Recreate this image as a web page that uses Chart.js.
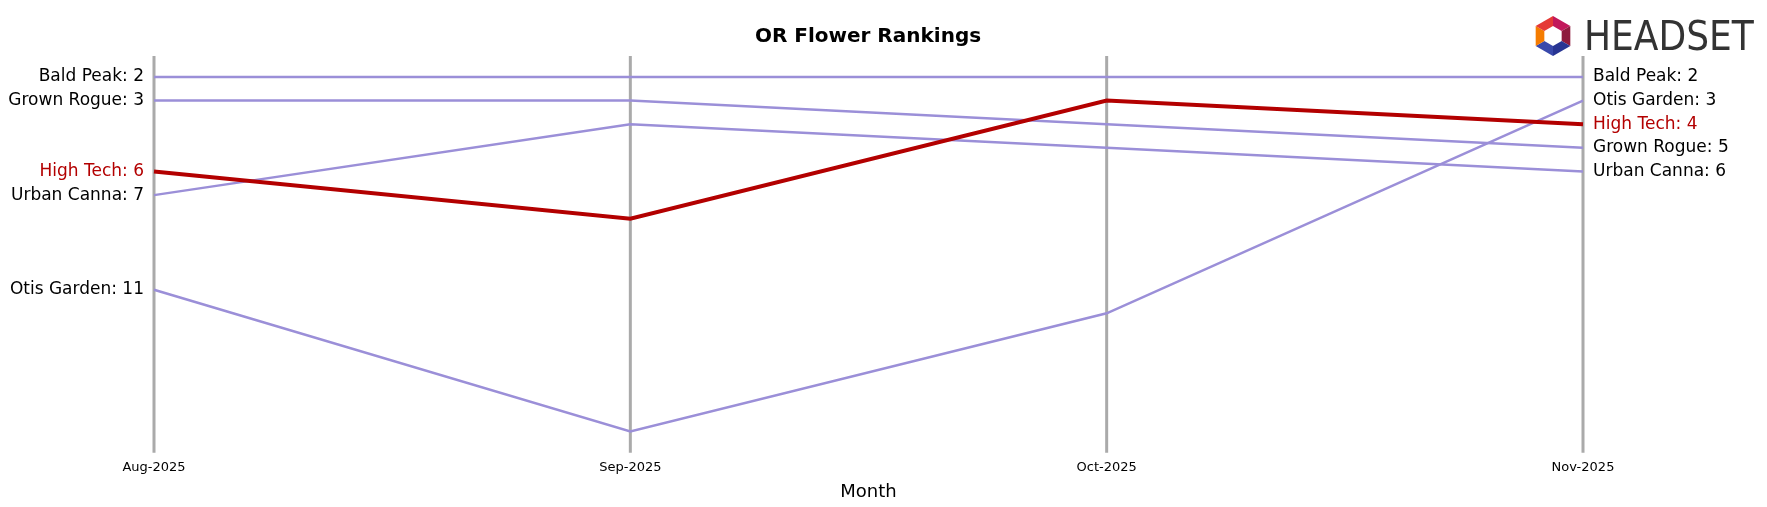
<!DOCTYPE html>
<html>
<head>
<meta charset="utf-8">
<script src="https://cdn.jsdelivr.net/npm/chart.js@4/dist/chart.umd.min.js"></script>
<style>
  html, body { margin: 0; padding: 0; background: #fff; }
  #wrap { width: 1767px; height: 507px; }
</style>
</head>
<body>
<div id="wrap"><canvas id="c"></canvas></div>
<script>
// Data
var months = ['Aug-2025', 'Sep-2025', 'Oct-2025', 'Nov-2025'];
var brands = ['Bald Peak', 'Grown Rogue', 'Urban Canna', 'Otis Garden', 'High Tech'];
var baldPeak = [2, 2, 2, 2];
var grownRogue = [3, 3, 4, 5];
var urbanCanna = [7, 4, 5, 6];
var otisGarden = [11, 17, 12, 3];
var highTech = [6, 8, 3, 4];
var highlight = 'High Tech';

var series = [baldPeak, grownRogue, urbanCanna, otisGarden, highTech];
var LAV = '#9b8fd8', RED = '#b30000';
var FONT = 'DejaVu Sans';

var datasets = brands.map(function (name, i) {
    var hi = name === highlight;
    return {
        label: name,
        data: series[i],
        borderColor: hi ? RED : LAV,
        borderWidth: hi ? 4 : 2.5,
        pointRadius: 0,
        tension: 0,
        order: hi ? 0 : 1
    };
});

// Draw month guide lines, end labels, title and logo
var decor = {
    id: 'decor',
    beforeDatasetsDraw: function (chart) {
        var ctx = chart.ctx, x = chart.scales.x, a = chart.chartArea;
        ctx.save();
        ctx.strokeStyle = '#aaaaaa';
        ctx.lineWidth = 3;
        months.forEach(function (m, i) {
            var px = x.getPixelForValue(i);
            ctx.beginPath();
            ctx.moveTo(px, 56);
            ctx.lineTo(px, a.bottom);
            ctx.stroke();
        });
        ctx.restore();
    },
    afterDraw: function (chart) {
        var ctx = chart.ctx, x = chart.scales.x, y = chart.scales.y;
        var last = months.length - 1;
        ctx.save();
        ctx.font = '17px "' + FONT + '"';
        ctx.textBaseline = 'middle';
        brands.forEach(function (name, i) {
            var hi = name === highlight;
            ctx.fillStyle = hi ? RED : '#000';
            ctx.textAlign = 'right';
            ctx.fillText(name + ': ' + series[i][0], x.getPixelForValue(0) - 10, y.getPixelForValue(series[i][0]));
            ctx.textAlign = 'left';
            ctx.fillText(name + ': ' + series[i][last], x.getPixelForValue(last) + 10, y.getPixelForValue(series[i][last]));
        });
        // title
        ctx.fillStyle = '#000';
        ctx.textAlign = 'center';
        ctx.font = 'bold 20px "' + FONT + '"';
        ctx.fillText('OR Flower Rankings', 868, 37);
        // logo
        ctx.fillStyle = '#333';
        ctx.textAlign = 'left';
        ctx.font = '40px "Liberation Sans Narrow", "DejaVu Sans Condensed", sans-serif';
        ctx.fillText('HEADSET', 1584, 40);
        var cx = 1553, cy = 36, r = 20;
        var cols = ['#c2185b', '#8e1b3d', '#283593', '#3949ab', '#f57c00', '#e53935'];
        for (var k = 0; k < 6; k++) {
            var a0 = -Math.PI / 2 + k * Math.PI / 3, a1 = a0 + Math.PI / 3;
            ctx.beginPath();
            ctx.moveTo(cx + r * Math.cos(a0), cy + r * Math.sin(a0));
            ctx.lineTo(cx + r * Math.cos(a1), cy + r * Math.sin(a1));
            ctx.lineTo(cx + 0.5 * r * Math.cos(a1), cy + 0.5 * r * Math.sin(a1));
            ctx.lineTo(cx + 0.5 * r * Math.cos(a0), cy + 0.5 * r * Math.sin(a0));
            ctx.closePath();
            ctx.fillStyle = cols[k];
            ctx.fill();
        }
        ctx.restore();
    }
};

new Chart(document.getElementById('c'), {
    type: 'line',
    data: { labels: months, datasets: datasets },
    plugins: [decor],
    options: {
        responsive: true,
        maintainAspectRatio: false,
        animation: false,
        layout: { padding: { left: 154, right: 184, top: 58, bottom: 0 } },
        plugins: { legend: { display: false }, tooltip: { enabled: false } },
        scales: {
            x: {
                offset: false,
                grid: { display: false, drawTicks: true, tickLength: 5, tickColor: '#000' },
                border: { display: false },
                ticks: { color: '#000', font: { family: FONT, size: 13 }, maxRotation: 0, padding: 2 },
                title: { display: true, text: 'Month', color: '#000', font: { family: FONT, size: 18 }, padding: { top: 4 } }
            },
            y: {
                reverse: true,
                min: 1.2,
                max: 17.9,
                display: false
            }
        }
    }
});
</script>
</body>
</html>
